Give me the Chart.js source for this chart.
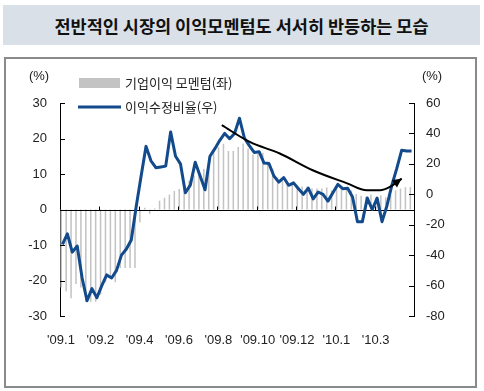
<!DOCTYPE html>
<html><head><meta charset="utf-8">
<script src="https://cdn.jsdelivr.net/npm/chart.js@4"></script>
<style>
html,body{margin:0;padding:0;background:#fff;width:484px;height:391px;overflow:hidden}
#title{position:absolute;left:3px;top:5px;width:477px;height:40px;background:#d9e0e7;display:flex;align-items:center;justify-content:center;font-family:"Noto Sans CJK KR";font-weight:bold;font-size:17.5px;color:#111}
#frame{position:absolute;left:4px;top:57px;width:469px;height:327px;border:2px solid #8a8a8a}
canvas{position:absolute;left:0;top:0}
</style></head>
<body>
<div id="title">전반적인 시장의 이익모멘텀도 서서히 반등하는 모습</div>
<div id="frame"></div>
<canvas id="c" width="484" height="391"></canvas>
<script>
// weekly categories (index of week)
const weeks = Array.from({length: 72}, (_, i) => i);
// 기업이익 모멘텀 (left axis, %)
const momentum = [-22,-23,-25,-21,-22,-26,-26,-26,-24,-20.5,-19,-20.5,-16.5,-16.5,-16.5,-16.5,
  -3.6,0.5,-1.2,0.3,2.5,3.3,4.2,5.2,5.8,6.8,8.2,9.6,11,11.5,14.5,16.5,17.6,18.5,16.5,16.5,
  17.6,18.6,17.2,15.5,15.8,16,13.5,11.5,9,8,7.5,7,6.8,6.5,6.5,5.9,5.9,5.9,6.2,5.4,
  6.3,5.9,5.9,5.4,4.4,3.9,3.6,4.2,3.4,4.0,3.4,4.0,5.4,5.9,6.3,6.3];
// 이익수정비율 (right axis, %)
const revision = [-33,-26,-38,-34,-55,-70,-62,-68,-60,-53,-55,-50,-40,-36,-30,-8,
  12,31.5,22,17.5,18,18.5,41,25,20,1,6,21,12,3,25,30,35.5,40,36.5,40,
  50,37,32,27.5,28,20.5,20.2,12,8,11,5.9,7.5,3.7,0,4,-3,1.5,0,-4.5,1,
  6.5,3.7,4,-1.8,-18,-18,-2.5,-10,-2.5,-18,-7.5,6,17,29,28.5,28.5];
// trend arrow (week index, right-axis value)
const trendX = [32.4,38.1,44.2,50.9,57.9,61.9,64.6,66.6,69];
const trendY = [45.4,34.4,26.8,15.8,7.2,2.6,2.6,4.8,10.3];
// x tick labels at category boundaries
const tickLabels = ["'09.1","'09.2","'09.4","'09.6","'09.8","'09.10","'09.12","'10.1","'10.3"];
const tickPositions = [-0.5,7.5,15.5,23.5,31.5,39.5,47.5,55.5,63.5];
const leftTicks = [-30,-20,-10,0,10,20,30];
const rightTicks = [-80,-60,-40,-20,0,20,40,60];

const BLUE = '#124a8c', GRAY = '#c3c3c3', TXT = '#222';
const numFont = {family: '"Liberation Sans", Arial, sans-serif', size: 13};
const numFontCss = '13px "Liberation Sans", Arial, sans-serif';
const korFont = '13px "Noto Sans CJK KR", sans-serif';

const deco = {
  id: 'deco',
  beforeDatasetDraw(chart, args) {
    if (args.index !== 0) return;
    const {ctx, chartArea: a, scales} = chart;
    const y0 = Math.round(scales.y.getPixelForValue(0)) + 0.5;
    ctx.save();
    ctx.strokeStyle = '#000'; ctx.lineWidth = 1;
    ctx.beginPath();
    ctx.moveTo(a.left, y0); ctx.lineTo(a.right, y0);
    tickPositions.slice(1).forEach(v => {
      const x = Math.round(scales.xl.getPixelForValue(v)) + 0.5;
      ctx.moveTo(x, y0); ctx.lineTo(x, y0 - 4);
    });
    ctx.stroke();
    ctx.restore();
  },
  afterDraw(chart) {
    const {ctx, chartArea: a, scales} = chart;
    ctx.save();
    ctx.strokeStyle = '#000'; ctx.lineWidth = 1;
    ctx.beginPath();
    scales.y.ticks.forEach(t => {
      const y = Math.round(scales.y.getPixelForValue(t.value)) + 0.5;
      ctx.moveTo(a.left, y); ctx.lineTo(a.left + 5, y);
    });
    scales.y2.ticks.forEach(t => {
      const y = Math.round(scales.y2.getPixelForValue(t.value)) + 0.5;
      ctx.moveTo(a.right - 5, y); ctx.lineTo(a.right, y);
    });
    ctx.stroke();
    // arrow head on trend
    const pts = chart.getDatasetMeta(2).data;
    const p1 = pts[pts.length - 2], p2 = pts[pts.length - 1];
    const ang = Math.atan2(p2.y - p1.y, p2.x - p1.x);
    const L = 9, W = 4.5;
    ctx.fillStyle = '#000';
    ctx.beginPath();
    ctx.moveTo(p2.x, p2.y);
    ctx.lineTo(p2.x - L * Math.cos(ang) + W * Math.sin(ang), p2.y - L * Math.sin(ang) - W * Math.cos(ang));
    ctx.lineTo(p2.x - L * Math.cos(ang) - W * Math.sin(ang), p2.y - L * Math.sin(ang) + W * Math.cos(ang));
    ctx.closePath(); ctx.fill();
    // x tick labels (category boundaries)
    ctx.fillStyle = TXT;
    ctx.font = numFontCss;
    ctx.textAlign = 'center'; ctx.textBaseline = 'middle';
    tickPositions.forEach((v, i) => {
      ctx.fillText(tickLabels[i], scales.xl.getPixelForValue(v) + 1, a.bottom + 24);
    });
    // unit labels
    ctx.fillText('(%)', a.left - 21, a.top - 27);
    ctx.fillText('(%)', a.right + 18, a.top - 27);
    // legend
    const ds = chart.data.datasets;
    ctx.fillStyle = GRAY;
    ctx.fillRect(a.left + 19, a.top - 25, 41, 10);
    ctx.strokeStyle = BLUE; ctx.lineWidth = 3;
    ctx.beginPath(); ctx.moveTo(a.left + 18, a.top + 4); ctx.lineTo(a.left + 61, a.top + 4); ctx.stroke();
    ctx.fillStyle = TXT; ctx.font = korFont; ctx.textAlign = 'left';
    ctx.fillText(ds[1].label, a.left + 65, a.top - 20);
    ctx.fillText(ds[0].label, a.left + 65, a.top + 4);
    ctx.restore();
  }
};

function fixV(w) { return s => { s.width = w; s.paddingTop = 0; s.paddingBottom = 0; }; }

new Chart(document.getElementById('c'), {
  type: 'bar',
  data: {
    labels: weeks,
    datasets: [
      {type: 'line', label: '이익수정비율(우)', data: revision, xAxisID: 'x', yAxisID: 'y2',
       borderColor: BLUE, borderWidth: 3, pointRadius: 0, tension: 0, order: 1, borderJoinStyle: 'round'},
      {type: 'bar', label: '기업이익 모멘텀(좌)', data: momentum, xAxisID: 'x', yAxisID: 'y',
       backgroundColor: GRAY, barPercentage: 0.62, categoryPercentage: 1, order: 2},
      {type: 'line', label: 'trend', data: trendX.map((x, i) => ({x, y: trendY[i]})), xAxisID: 'xl', yAxisID: 'y2',
       borderColor: '#000', borderWidth: 2, pointRadius: 0, cubicInterpolationMode: 'monotone', order: 0}
    ]
  },
  options: {
    responsive: false, animation: false, devicePixelRatio: 1,
    layout: {autoPadding: false, padding: {left: 28, right: 39, top: 103, bottom: 75}},
    plugins: {legend: {display: false}, tooltip: {enabled: false}},
    scales: {
      x: {type: 'category', display: false, offset: true},
      xl: {type: 'linear', display: false, offset: false, min: -0.5, max: 71.5},
      y: {position: 'left', min: -30, max: 30,
        afterBuildTicks(s) { s.ticks = leftTicks.map(v => ({value: v})); },
        afterFit: fixV(32),
        ticks: {padding: 13, font: numFont, color: TXT},
        grid: {display: false, drawTicks: false}, border: {display: true, color: '#000', width: 1}},
      y2: {position: 'right', min: -80, max: 60,
        afterBuildTicks(s) { s.ticks = rightTicks.map(v => ({value: v})); },
        afterFit: fixV(31),
        ticks: {padding: 12, font: numFont, color: TXT},
        grid: {display: false, drawTicks: false}, border: {display: true, color: '#000', width: 1}}
    }
  },
  plugins: [deco]
});
</script>
</body></html>
